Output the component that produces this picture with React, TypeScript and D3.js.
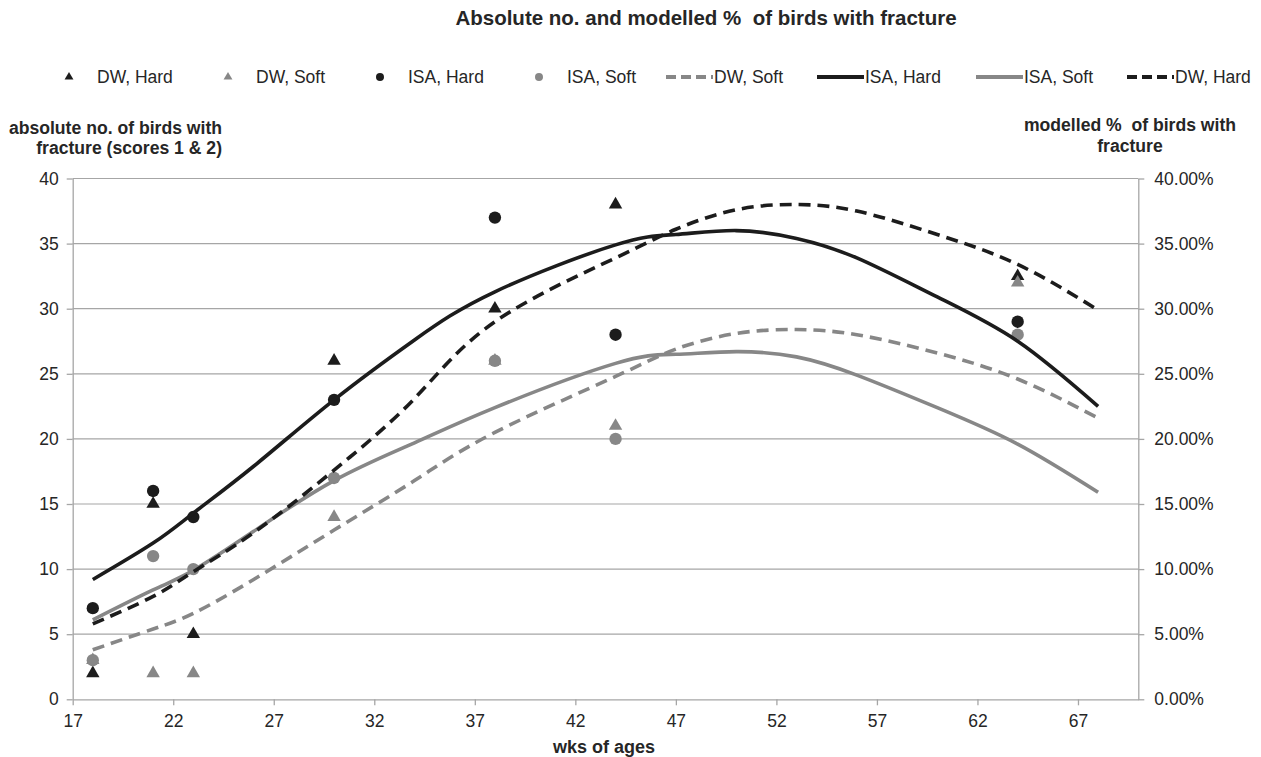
import React, { useRef, useEffect } from 'react';
import * as d3 from 'd3';

const WIDTH = 1261;
const HEIGHT = 757;

// observed absolute counts (left axis)
const obsWeeks = [18, 21, 23, 30, 38, 44, 64];
const dwHardCount = [2, 15, 5, 26, 30, 38, 32.5];
const dwSoftCount = [3, 2, 2, 14, 26, 21, 32];
const isaHardCount = [7, 16, 14, 23, 37, 28, 29];
const isaSoftCount = [3, 11, 10, 17, 26, 20, 28];

// modelled proportions (right axis)
const modelWeeks = [18, 21, 23, 26, 30, 34, 38, 44, 47, 50, 53, 56, 60, 64, 68];
const dwSoftModel = [0.038, 0.054, 0.066, 0.092, 0.130, 0.168, 0.205, 0.248, 0.269, 0.281, 0.284, 0.280, 0.266, 0.246, 0.216];
const isaHardModel = [0.092, 0.120, 0.143, 0.179, 0.230, 0.276, 0.313, 0.349, 0.357, 0.360, 0.354, 0.339, 0.309, 0.275, 0.225];
const isaSoftModel = [0.061, 0.084, 0.099, 0.129, 0.168, 0.197, 0.224, 0.258, 0.265, 0.267, 0.263, 0.249, 0.224, 0.196, 0.159];
const dwHardModel = [0.058, 0.079, 0.098, 0.128, 0.176, 0.231, 0.290, 0.339, 0.361, 0.376, 0.380, 0.375, 0.357, 0.334, 0.299];

const xTicks = [17, 22, 27, 32, 37, 42, 47, 52, 57, 62, 67];
const leftTicks = [0, 5, 10, 15, 20, 25, 30, 35, 40];
const rightTicks = [0, 0.05, 0.1, 0.15, 0.2, 0.25, 0.3, 0.35, 0.4];

const BLACK = '#1c1c1c';
const GRAY = '#878787';
const GRID = '#a6a6a6';
const TEXT = '#262626';
const FONT = '"Liberation Sans", Arial, sans-serif';

const pointSeries = [
  { label: 'DW, Hard', values: dwHardCount, color: BLACK, shape: 'triangle' },
  { label: 'DW, Soft', values: dwSoftCount, color: GRAY, shape: 'triangle' },
  { label: 'ISA, Hard', values: isaHardCount, color: BLACK, shape: 'circle' },
  { label: 'ISA, Soft', values: isaSoftCount, color: GRAY, shape: 'circle' },
];

const lineSeries = [
  { label: 'DW, Soft', values: dwSoftModel, color: GRAY, dashed: true },
  { label: 'ISA, Hard', values: isaHardModel, color: BLACK, dashed: false },
  { label: 'ISA, Soft', values: isaSoftModel, color: GRAY, dashed: false },
  { label: 'DW, Hard', values: dwHardModel, color: BLACK, dashed: true },
];

const App: React.FC = () => {
  const ref = useRef<SVGSVGElement | null>(null);

  useEffect(() => {
    const svg = d3.select(ref.current);
    svg.selectAll('*').remove();

    const left = 72.7, right = 1138.3, top = 178.5, bottom = 699.3;

    const x = d3.scaleLinear().domain([17, 70]).range([left, right]);
    const yL = d3.scaleLinear().domain([0, 40]).range([bottom, top]);
    const yR = d3.scaleLinear().domain([0, 0.4]).range([bottom, top]);

    const g = svg.append('g').attr('font-family', FONT);

    // gridlines
    g.append('g')
      .selectAll('line')
      .data(leftTicks.filter(t => t > 0))
      .join('line')
      .attr('x1', left).attr('x2', right)
      .attr('y1', d => yL(d)).attr('y2', d => yL(d))
      .attr('stroke', GRID).attr('stroke-width', 1.2);

    // axes
    const xAxis = d3.axisBottom(x).tickValues(xTicks).tickSize(6).tickSizeOuter(0).tickFormat(d3.format('d'));
    const yAxisL = d3.axisLeft(yL).tickValues(leftTicks).tickSize(6).tickSizeOuter(0).tickFormat(d3.format('d'));
    const yAxisR = d3.axisRight(yR).tickValues(rightTicks).tickSize(6).tickSizeOuter(0).tickFormat(d3.format('.2%'));

    const styleAxis = (sel: any) => {
      sel.select('.domain').attr('stroke', GRID).attr('stroke-width', 1.3);
      sel.selectAll('.tick line').attr('stroke', GRID).attr('stroke-width', 1.3);
      sel.selectAll('.tick text')
        .attr('fill', TEXT)
        .attr('font-size', '17.5px')
        .attr('font-family', FONT);
    };

    g.append('g').attr('transform', `translate(0,${bottom})`).call(xAxis).call(styleAxis)
      .selectAll('.tick text').attr('dy', '0.71em').attr('y', 15);
    g.append('g').attr('transform', `translate(${left},0)`).call(yAxisL).call(styleAxis)
      .selectAll('.tick text').attr('x', -14);
    g.append('g').attr('transform', `translate(${right},0)`).call(yAxisR).call(styleAxis)
      .selectAll('.tick text').attr('x', 16);

    // observed points
    const tri = d3.symbol().type(d3.symbolTriangle).size(78);
    const circ = d3.symbol().type(d3.symbolCircle).size(120);
    pointSeries.forEach(s => {
      g.append('g')
        .selectAll('path')
        .data(s.values.map((v, i) => ({ w: obsWeeks[i], v })))
        .join('path')
        .attr('transform', d => `translate(${x(d.w)},${yL(d.v)})`)
        .attr('d', s.shape === 'triangle' ? tri() : circ())
        .attr('fill', s.color);
    });

    // modelled curves
    const line = d3.line<{ w: number; v: number }>()
      .x(d => x(d.w))
      .y(d => yR(d.v))
      .curve(d3.curveNatural);

    lineSeries.forEach(s => {
      g.append('path')
        .datum(s.values.map((v, i) => ({ w: modelWeeks[i], v })))
        .attr('fill', 'none')
        .attr('stroke', s.color)
        .attr('stroke-width', 3.6)
        .attr('stroke-dasharray', s.dashed ? '12,7' : null)
        .attr('d', line);
    });

    // title
    g.append('text')
      .attr('x', 706).attr('y', 25)
      .attr('text-anchor', 'middle')
      .attr('font-size', '20.5px').attr('font-weight', 'bold')
      .attr('fill', TEXT)
      .style('white-space', 'pre')
      .text('Absolute no. and modelled %  of birds with fracture');

    // legend
    const legendY = 77;
    const markerX = [69, 228, 380, 539];
    pointSeries.forEach((s, i) => {
      const lg = g.append('g').attr('transform', `translate(${markerX[i]},${legendY})`);
      lg.append('path')
        .attr('d', s.shape === 'triangle'
          ? d3.symbol().type(d3.symbolTriangle).size(34)()
          : d3.symbol().type(d3.symbolCircle).size(50)())
        .attr('fill', s.color);
      lg.append('text')
        .attr('x', 28).attr('dy', '0.35em')
        .attr('font-size', '17.5px').attr('fill', TEXT)
        .text(s.label);
    });
    const lineX = [666, 817, 976, 1127];
    lineSeries.forEach((s, i) => {
      const lg = g.append('g').attr('transform', `translate(${lineX[i]},${legendY})`);
      lg.append('line')
        .attr('x1', 0).attr('x2', 47)
        .attr('stroke', s.color).attr('stroke-width', 4)
        .attr('stroke-dasharray', s.dashed ? '10,5' : null);
      lg.append('text')
        .attr('x', 48).attr('dy', '0.35em')
        .attr('font-size', '17.5px').attr('fill', TEXT)
        .text(s.label);
    });

    // axis titles
    const leftTitle = g.append('text')
      .attr('text-anchor', 'end')
      .attr('font-size', '17.6px').attr('font-weight', 'bold').attr('fill', TEXT);
    leftTitle.append('tspan').attr('x', 222).attr('y', 134).text('absolute no. of birds with');
    leftTitle.append('tspan').attr('x', 222).attr('y', 154).text('fracture (scores 1 & 2)');

    const rightTitle = g.append('text')
      .attr('text-anchor', 'middle')
      .attr('font-size', '17.6px').attr('font-weight', 'bold').attr('fill', TEXT)
      .style('white-space', 'pre');
    rightTitle.append('tspan').attr('x', 1130).attr('y', 131).text('modelled %  of birds with');
    rightTitle.append('tspan').attr('x', 1130).attr('y', 152).text('fracture');

    g.append('text')
      .attr('x', 604).attr('y', 753)
      .attr('text-anchor', 'middle')
      .attr('font-size', '18px').attr('font-weight', 'bold').attr('fill', TEXT)
      .text('wks of ages');
  }, []);

  return (
    <svg
      ref={ref}
      width={WIDTH}
      height={HEIGHT}
      style={{ position: 'absolute', left: 0, top: 0, background: '#fff' }}
    />
  );
};

export default App;
